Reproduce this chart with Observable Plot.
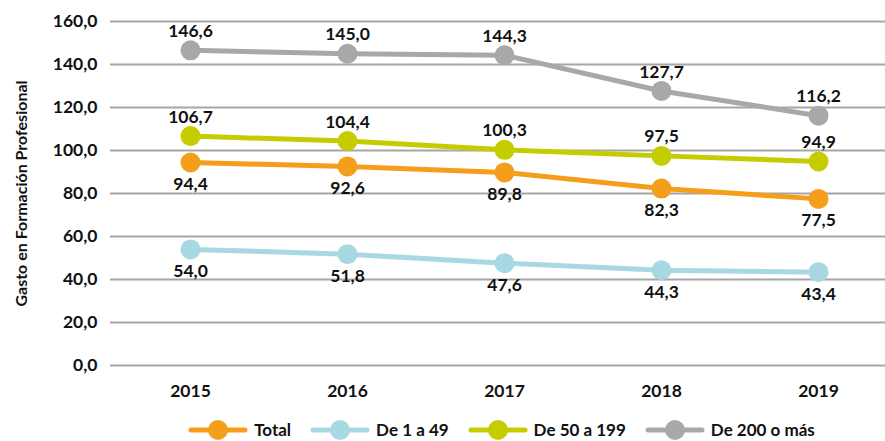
<!DOCTYPE html>
<html>
<head>
<meta charset="utf-8">
<script src="https://cdn.jsdelivr.net/npm/d3@7"></script>
<script src="https://cdn.jsdelivr.net/npm/@observablehq/plot@0.6"></script>
<style>
  html, body { margin: 0; padding: 0; background: #fff; overflow: hidden; }
  body { width: 885px; height: 441px; font-family: Lato, "Open Sans", sans-serif; }
  #legend { display: flex; justify-content: center; align-items: center; height: 20px;
            margin-left: 118px; gap: 19px; font: bold 17px/20px Lato, sans-serif; color: #111; }
  .item { display: flex; align-items: center; gap: 6px; }
  svg { display: block; }
</style>
</head>
<body>
<div id="chart"></div>
<div id="legend"></div>
<script>
const years = [2015, 2016, 2017, 2018, 2019];
const seriesNames = ["Total", "De 1 a 49", "De 50 a 199", "De 200 o más"];
const seriesColors = ["#F59E1C", "#A8D8E2", "#C5CD00", "#A8A8A8"];
const total = [94.4, 92.6, 89.8, 82.3, 77.5];
const de1a49 = [54.0, 51.8, 47.6, 44.3, 43.4];
const de50a199 = [106.7, 104.4, 100.3, 97.5, 94.9];
const de200 = [146.6, 145.0, 144.3, 127.7, 116.2];
const yTicks = [0, 20, 40, 60, 80, 100, 120, 140, 160];
const yLabel = "Gasto en Formación Profesional";

const seriesValues = [total, de1a49, de50a199, de200];
const data = seriesNames.flatMap((s, i) => years.map((y, j) => ({series: s, year: y, value: seriesValues[i][j]})));
const fmt = v => v.toFixed(1).replace(".", ",");
const below = new Set(["Total", "De 1 a 49"]);
const FS = 17.5;

const chart = Plot.plot({
  width: 885,
  height: 420,
  marginLeft: 110,
  marginRight: 0,
  marginTop: 21,
  marginBottom: 55,
  style: {fontFamily: "Lato, sans-serif", fontSize: FS + "px", fontWeight: "bold", color: "#111", background: "#fff"},
  x: {domain: [2015 - 80/157, 2019 + 67/157]},
  y: {domain: [0, 160]},
  color: {domain: seriesNames, range: seriesColors},
  marks: [
    Plot.ruleY(yTicks, {stroke: "#A6A6A6", strokeWidth: 2}),
    Plot.axisY({ticks: yTicks, tickSize: 0, tickPadding: 13, tickFormat: fmt, label: null, fontSize: FS, fontWeight: "bold"}),
    Plot.axisY({ticks: [], label: yLabel, labelAnchor: "center", labelArrow: "none", labelOffset: 95, fontSize: 16, fontWeight: "bold"}),
    Plot.axisX({ticks: years, tickSize: 0, tickPadding: 19, tickFormat: d => String(d), label: null, fontSize: FS, fontWeight: "bold"}),
    Plot.line(data, {x: "year", y: "value", z: "series", stroke: "series", strokeWidth: 5, strokeLinecap: "round"}),
    Plot.dot(data, {x: "year", y: "value", fill: "series", r: 10}),
    Plot.text(data.filter(d => !below.has(d.series)), {x: "year", y: "value", text: d => fmt(d.value), dy: -19, lineAnchor: "middle", fill: "#111", fontSize: FS, fontWeight: "bold"}),
    Plot.text(data.filter(d => below.has(d.series)), {x: "year", y: "value", text: d => fmt(d.value), dy: 22, lineAnchor: "middle", fill: "#111", fontSize: FS, fontWeight: "bold"})
  ]
});
document.getElementById("chart").appendChild(chart);

const legend = document.getElementById("legend");
seriesNames.forEach((s, i) => {
  const item = document.createElement("div");
  item.className = "item";
  item.innerHTML = `<svg width="60" height="20"><line x1="3" x2="57" y1="10" y2="10" stroke="${seriesColors[i]}" stroke-width="5" stroke-linecap="round"/><circle cx="30" cy="10" r="10" fill="${seriesColors[i]}"/></svg><span>${s}</span>`;
  legend.appendChild(item);
});
</script>
</body>
</html>
